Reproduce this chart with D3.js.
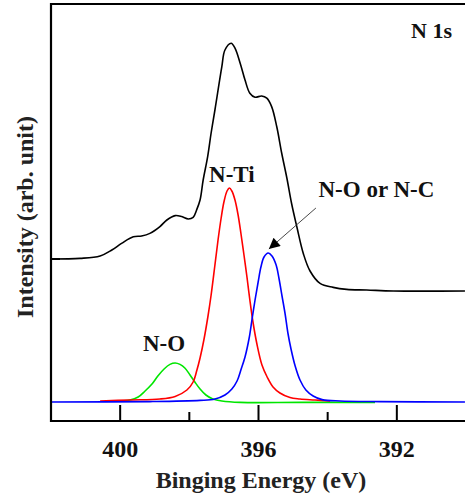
<!DOCTYPE html>
<html>
<head>
<meta charset="utf-8">
<script src="https://cdn.jsdelivr.net/npm/d3@7"></script>
<style>
  body { margin: 0; background: #fff; }
  text { font-family: "Liberation Serif", "Times New Roman", serif; font-weight: bold; fill: #111; }
</style>
</head>
<body>
<script>
// binding energy (eV) and intensity (arb. unit)
var envelopeE = [402.00, 401.16, 400.58, 400.24, 399.96, 399.62, 399.38, 399.14, 398.85, 398.65, 398.41, 398.22, 398.03, 397.89, 397.79, 397.69, 397.60, 397.47, 397.37, 397.26, 397.06, 396.97, 396.79, 396.68, 396.53, 396.39, 396.25, 396.10, 395.91, 395.76, 395.62, 395.47, 395.33, 395.18, 395.04, 394.89, 394.70, 394.51, 394.22, 393.84, 393.45, 392.87, 392.10, 390.03];
var envelopeI = [715, 718, 730, 760, 793, 826, 830, 843, 877, 910, 932, 927, 915, 923, 960, 1010, 1110, 1227, 1345, 1460, 1677, 1760, 1794, 1769, 1694, 1610, 1544, 1524, 1530, 1519, 1477, 1375, 1245, 1120, 990, 875, 740, 655, 593, 573, 563, 560, 555, 555];

var tiE = [400.58, 399.72, 398.85, 398.41, 398.07, 397.89, 397.78, 397.69, 397.58, 397.46, 397.37, 397.26, 397.17, 397.08, 397.00, 396.91, 396.84, 396.77, 396.68, 396.59, 396.51, 396.42, 396.33, 396.25, 396.16, 396.04, 395.90, 395.75, 395.58, 395.38, 395.09, 394.80, 394.37, 393.93];
var tiI = [5, 10, 15, 28, 60, 100, 160, 220, 310, 430, 535, 685, 810, 920, 1000, 1055, 1070, 1055, 1010, 935, 845, 735, 620, 510, 400, 285, 185, 125, 75, 45, 22, 15, 10, 5];

var ocE = [402.00, 399.14, 397.69, 397.26, 396.97, 396.77, 396.62, 396.51, 396.39, 396.27, 396.19, 396.10, 396.01, 395.93, 395.84, 395.72, 395.61, 395.49, 395.41, 395.32, 395.23, 395.15, 395.06, 394.94, 394.80, 394.63, 394.42, 394.16, 393.64, 392.49, 390.03];
var ocI = [0, 2, 8, 15, 35, 65, 105, 160, 225, 320, 410, 510, 600, 675, 725, 745, 730, 685, 620, 530, 440, 345, 265, 180, 110, 60, 30, 12, 5, 2, 0];

var noE = [400.15, 399.72, 399.48, 399.28, 399.08, 398.91, 398.73, 398.56, 398.41, 398.27, 398.13, 397.98, 397.84, 397.69, 397.52, 397.32, 397.06, 396.53, 394.80, 392.63];
var noI = [5, 10, 25, 55, 90, 130, 165, 188, 195, 188, 170, 135, 100, 65, 35, 15, 5, -2, -2, -2];

var majorTicks = [400, 396, 392];
var minorTicks = [398, 394];
var yTicks = [715];

var width = 465, height = 497;
var plotLeft = 51, plotTop = 4, plotBottom = 421;

var x = d3.scaleLinear().domain([402, 390]).range([plotLeft, 466]);
var y = d3.scaleLinear().domain([-95, 1990]).range([plotBottom, plotTop]);

var svg = d3.select("body").append("svg")
    .attr("width", width)
    .attr("height", height);

svg.append("clipPath").attr("id", "plot")
    .append("rect")
    .attr("x", plotLeft).attr("y", plotTop)
    .attr("width", width - plotLeft).attr("height", plotBottom - plotTop);

function zip(es, is) {
  return es.map(function(e, i) { return [e, is[i]]; });
}

var line = d3.line()
    .x(function(d) { return x(d[0]); })
    .y(function(d) { return y(d[1]); })
    .curve(d3.curveCatmullRom.alpha(0.5));

var series = [
  {data: zip(noE, noI), color: "#00e600"},
  {data: zip(tiE, tiI), color: "#ff0000"},
  {data: zip(ocE, ocI), color: "#0000ff"},
  {data: zip(envelopeE, envelopeI), color: "#000000"}
];

svg.append("g").attr("clip-path", "url(#plot)")
  .selectAll("path")
  .data(series)
  .enter().append("path")
    .attr("d", function(d) { return line(d.data); })
    .attr("fill", "none")
    .attr("stroke", function(d) { return d.color; })
    .attr("stroke-width", 1.6);

// frame (right side runs off the picture)
svg.append("path")
    .attr("d", "M" + (width + 2) + "," + plotTop + "H" + plotLeft + "V" + plotBottom + "H" + (width + 2))
    .attr("fill", "none")
    .attr("stroke", "#000")
    .attr("stroke-width", 2.2);

svg.selectAll(".major")
    .data(majorTicks)
    .enter().append("line")
    .attr("x1", function(d) { return x(d); })
    .attr("x2", function(d) { return x(d); })
    .attr("y1", plotBottom)
    .attr("y2", plotBottom - 16)
    .attr("stroke", "#000")
    .attr("stroke-width", 2);

svg.selectAll(".minor")
    .data(minorTicks)
    .enter().append("line")
    .attr("x1", function(d) { return x(d); })
    .attr("x2", function(d) { return x(d); })
    .attr("y1", plotBottom)
    .attr("y2", plotBottom - 9)
    .attr("stroke", "#000")
    .attr("stroke-width", 2);

svg.selectAll(".ytick")
    .data(yTicks)
    .enter().append("line")
    .attr("x1", plotLeft)
    .attr("x2", plotLeft + 9)
    .attr("y1", function(d) { return y(d); })
    .attr("y2", function(d) { return y(d); })
    .attr("stroke", "#000")
    .attr("stroke-width", 2);

svg.selectAll(".ticklabel")
    .data(majorTicks)
    .enter().append("text")
    .attr("x", function(d) { return x(d); })
    .attr("y", 457)
    .attr("text-anchor", "middle")
    .style("font-size", "24px")
    .text(function(d) { return d; });

svg.append("text")
    .attr("x", 261)
    .attr("y", 488)
    .attr("text-anchor", "middle")
    .style("font-size", "24px")
    .style("fill", "#222")
    .text("Binging Energy (eV)");

svg.append("text")
    .attr("transform", "translate(33,217) rotate(-90)")
    .attr("text-anchor", "middle")
    .style("font-size", "24px")
    .style("fill", "#222")
    .text("Intensity (arb. unit)");

// peak labels
svg.append("text").attr("x", x(391.59)).attr("y", 38).style("font-size", "22px").text("N 1s");
svg.append("text").attr("x", x(396.77)).attr("y", 182).attr("text-anchor", "middle").style("font-size", "23px").text("N-Ti");
svg.append("text").attr("x", x(392.59)).attr("y", 197).attr("text-anchor", "middle").style("font-size", "23px").text("N-O or N-C");
svg.append("text").attr("x", x(398.73)).attr("y", 351).attr("text-anchor", "middle").style("font-size", "23px").text("N-O");

// arrow to the N-O / N-C peak
svg.append("defs").append("marker")
    .attr("id", "head")
    .attr("viewBox", "0 0 10 10")
    .attr("refX", 10).attr("refY", 5)
    .attr("markerWidth", 14).attr("markerHeight", 11)
    .attr("markerUnits", "userSpaceOnUse")
    .attr("orient", "auto")
    .append("path")
    .attr("d", "M0,0L10,5L0,10z")
    .attr("fill", "#000");

svg.append("line")
    .attr("x1", x(394.34)).attr("y1", y(970))
    .attr("x2", x(395.70)).attr("y2", y(765))
    .attr("stroke", "#333")
    .attr("stroke-width", 0.9)
    .attr("marker-end", "url(#head)");
</script>
</body>
</html>
